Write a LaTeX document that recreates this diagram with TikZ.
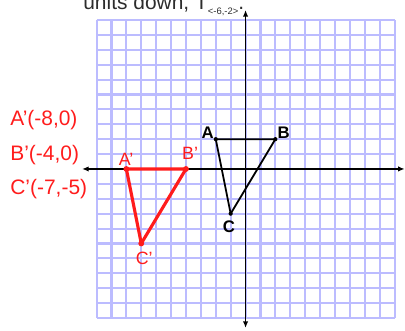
\documentclass[tikz,border=0pt]{standalone}
\usepackage{fontspec}
\setmainfont{Liberation Sans}
\usetikzlibrary{arrows.meta,positioning}
\definecolor{gridblue}{RGB}{188,188,255}
\definecolor{imgred}{RGB}{255,28,28}
\definecolor{inkgray}{RGB}{45,45,45}
\tikzset{gridline/.style={draw=gridblue,line width=2pt}, axis/.style={{Latex[length=2.2mm,width=1.8mm]}-{Latex[length=2.2mm,width=1.8mm]},line width=1.7pt,draw=black}, orig/.style={draw=black,line width=1.7pt,line join=round}, image/.style={draw=imgred,line width=3pt,line join=round}, vlab/.style={font=\fontsize{16}{18}\selectfont\bfseries,inner sep=0pt}, plab/.style={font=\fontsize{17}{19}\selectfont,text=imgred,inner sep=0pt}, coordlab/.style={font=\fontsize{20}{23}\selectfont,text=imgred,inner sep=0pt,anchor=west}}

\begin{document}
\begin{tikzpicture}[x=0.5cm,y=0.5cm]
\useasboundingbox (-16.48,-10.87) rectangle (10.70,11.34);
\draw[gridline,step=1] (-10,-10) grid (10,10);
\coordinate (xl) at (-10.97,0);\coordinate (xr) at (10.68,0);
\coordinate (yb) at (0,-10.67);\coordinate (yt) at (0,10.67);
\draw[axis] (xl)--(xr);\draw[axis] (yb)--(yt);
\node[anchor=base west,inner sep=0pt,text=inkgray,font=\fontsize{20}{23}\selectfont] (title) at (-10.9,10.67) {units down, T\raisebox{-0.4ex}{\fontsize{9}{10}\selectfont <-6,-2>}.};
% original triangle
\coordinate (A) at (-2,2);\coordinate (B) at (2,2);\coordinate (C) at (-1,-3);
\draw[orig] (A)--(B)--(C)--cycle;
\foreach \p in {A,B,C} \fill (\p) circle (2pt);
\node[vlab] (la) at (-2.55,2.42) {A};
\node[vlab] (lb) at (2.55,2.42) {B};
\node[vlab] (lc) at (-1.11,-3.9) {C};
% image triangle
\coordinate (A1) at (-8,0);\coordinate (B1) at (-4,0);\coordinate (C1) at (-7,-5);
\draw[image] (A1)--(B1)--(C1)--cycle;
\foreach \p in {A1,B1,C1} \fill[imgred] (\p) circle (2.8pt);
\node[plab] (la1) at (-8.02,0.67) {A'};
\node[plab] (lb1) at (-3.72,1.07) {B'};
\node[plab] (lc1) at (-6.8,-5.97) {C'};
\node[coordlab] (ca) at (-15.8,3.26) {A'(-8,0)};
\node[coordlab] (cb) at (-15.8,0.91) {B'(-4,0)};
\node[coordlab] (cc) at (-15.8,-1.34) {C'(-7,-5)};
\end{tikzpicture}
\end{document}
